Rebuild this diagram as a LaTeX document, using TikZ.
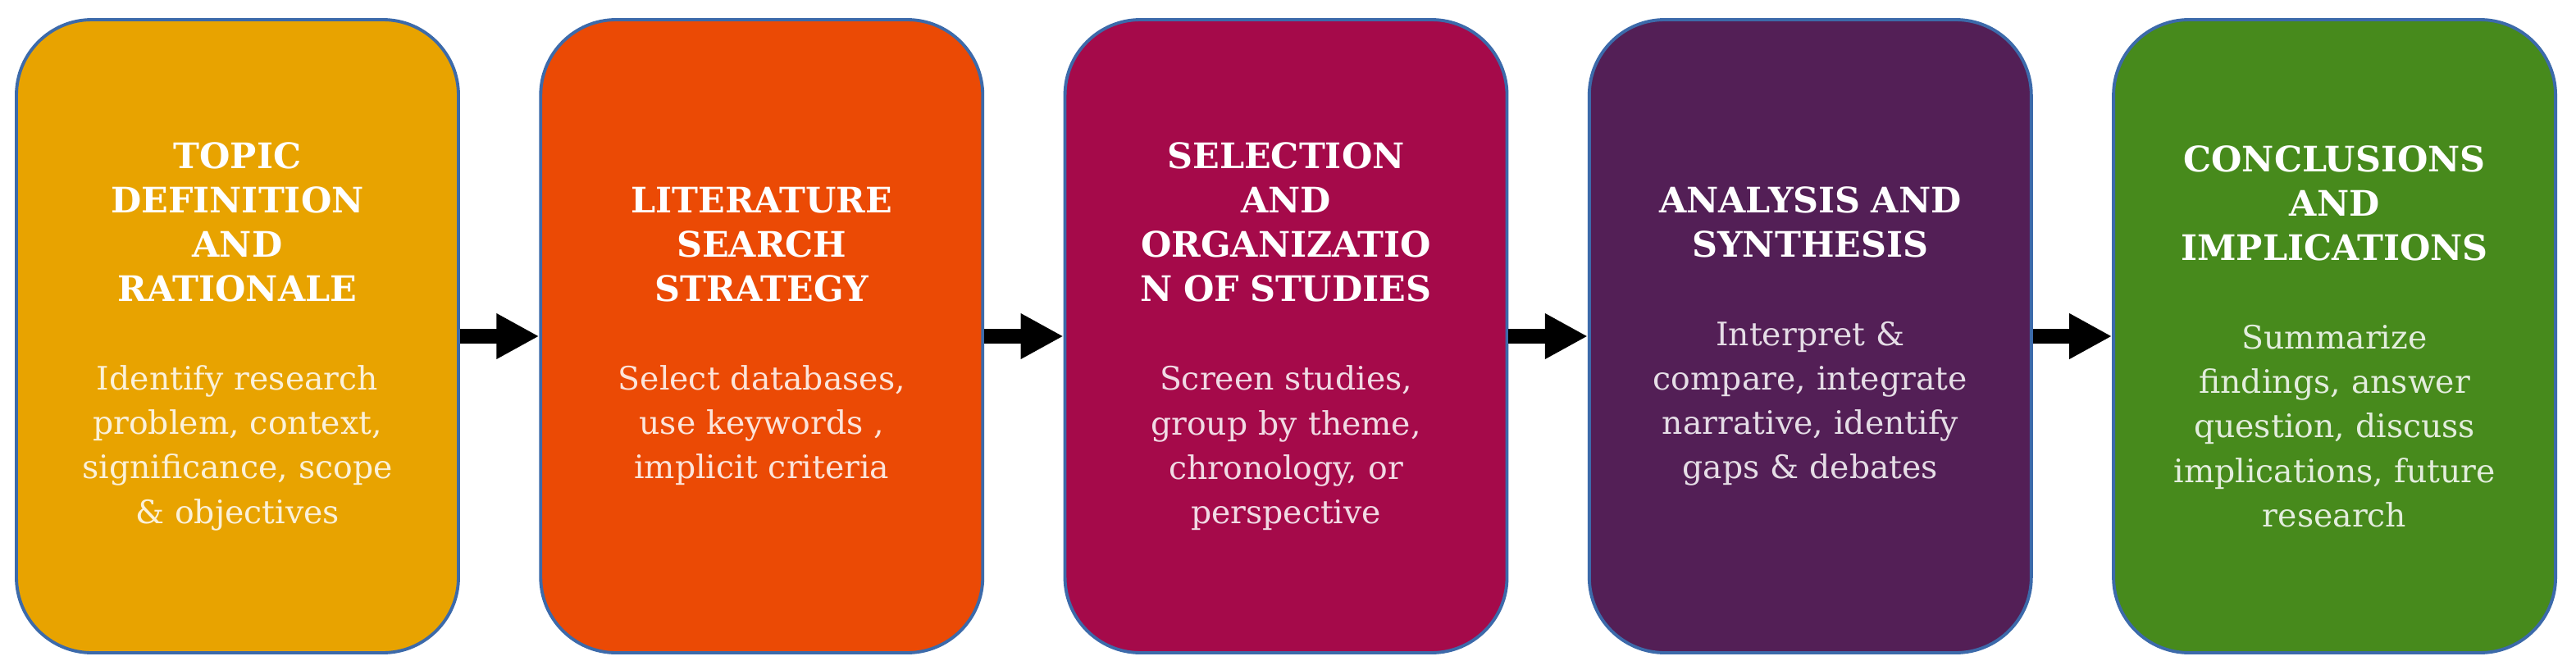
\documentclass[tikz,border=0pt]{standalone}
\usepackage{fontspec}
\setmainfont{DejaVu Serif}
\usetikzlibrary{positioning,arrows.meta}

\definecolor{stageA}{HTML}{E8A300}
\definecolor{stageB}{HTML}{EB4A05}
\definecolor{stageC}{HTML}{A50A4A}
\definecolor{stageD}{HTML}{531F56}
\definecolor{stageE}{HTML}{478A1C}
\definecolor{edgeblue}{HTML}{3C6AAA}

\newcommand{\stagetext}[3]{{\fontsize{12.2}{15.4}\selectfont\bfseries #2}\\[15.4pt]{\color{white!85!#1}#3}}

\begin{document}
\begin{tikzpicture}[
    stagebox/.style={draw=edgeblue, line width=1.1pt, fill=#1, rounded corners=0.92cm,
        minimum width=5.39cm, minimum height=7.72cm, inner sep=0pt,
        text width=5.2cm, align=center,
        text=white, font=\fontsize{11.2}{15.4}\selectfont},
    flow/.style={-{Triangle[length=0.52cm,width=0.52cm]}, line width=0.18cm, black}
]
    \useasboundingbox (0,0) rectangle (31.41,8.16);

    % Stages
    \node[stagebox=stageA] (topic) at (2.895,4.06)
        {\stagetext{stageA}{TOPIC\\DEFINITION\\AND\\RATIONALE}{Identify research\\problem, context,\\significance, scope\\\& objectives}};
    \node[stagebox=stageB, right=0.964cm of topic] (search)
        {\stagetext{stageB}{LITERATURE\\SEARCH\\STRATEGY}{Select databases,\\use keywords ,\\implicit criteria}};
    \node[stagebox=stageC, right=0.964cm of search] (select)
        {\stagetext{stageC}{SELECTION\\AND\\ORGANIZATIO\\N OF STUDIES}{Screen studies,\\group by theme,\\chronology, or\\perspective}};
    \node[stagebox=stageD, right=0.964cm of select] (analysis)
        {\stagetext{stageD}{ANALYSIS AND\\SYNTHESIS}{Interpret \&\\compare, integrate\\narrative, identify\\gaps \& debates}};
    \node[stagebox=stageE, right=0.964cm of analysis] (concl)
        {\stagetext{stageE}{CONCLUSIONS\\AND\\IMPLICATIONS}{Summarize\\findings, answer\\question, discuss\\implications, future\\research}};

    % Arrows
    \draw[flow] (topic) -- (search);
    \draw[flow] (search) -- (select);
    \draw[flow] (select) -- (analysis);
    \draw[flow] (analysis) -- (concl);
\end{tikzpicture}
\end{document}
